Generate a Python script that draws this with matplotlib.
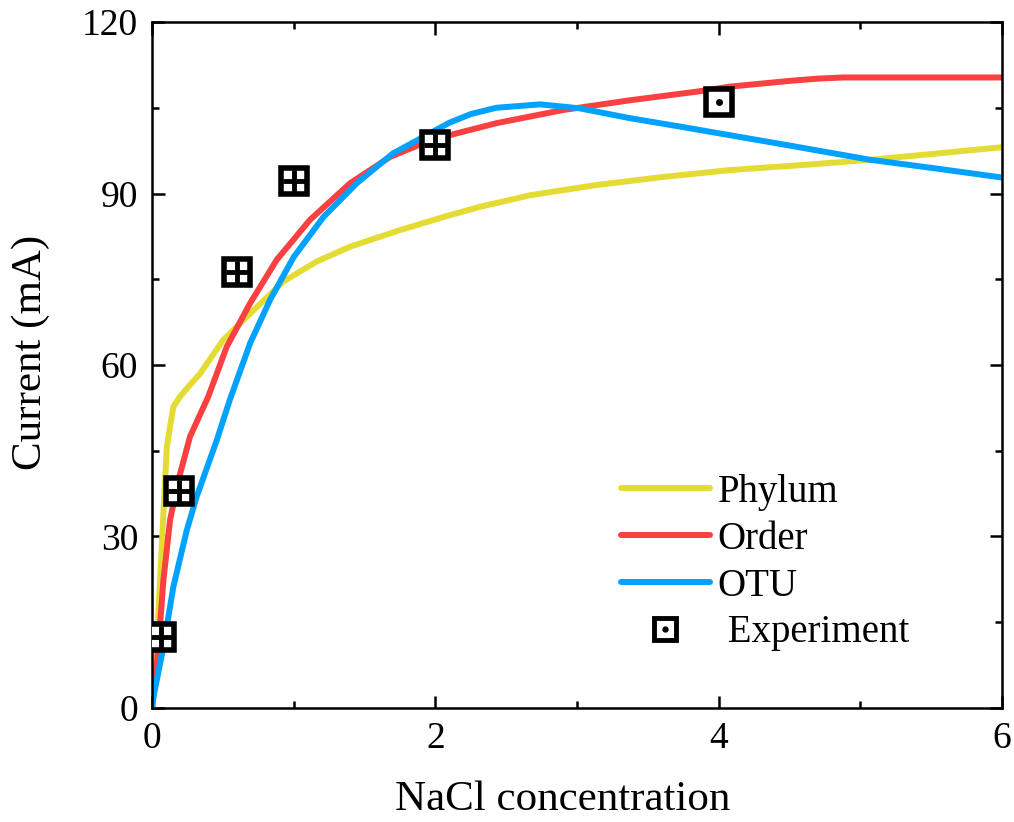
import matplotlib
matplotlib.use("Agg")
import matplotlib.pyplot as plt
from matplotlib.ticker import MultipleLocator
from matplotlib.legend_handler import HandlerTuple

# model curves
phylum_x = [0, 0.01, 0.045, 0.08, 0.104, 0.15, 0.198, 0.26, 0.339, 0.503, 0.692, 0.927, 1.162, 1.398,
            1.75, 2.10, 2.32, 2.67, 3.14, 3.61, 4.08, 4.6, 5.07, 5.5, 6.0]
phylum_y = [0, 4.9, 16.6, 34.1, 45.7, 52.7, 54.5, 56.3, 58.5, 64.4, 69.0, 74.6, 78.1, 80.7,
            83.6, 86.2, 87.7, 89.7, 91.5, 92.9, 94.1, 95.0, 95.9, 96.9, 98.1]

order_x = [0, 0.045, 0.08, 0.127, 0.186, 0.268, 0.397, 0.527, 0.692, 0.88, 1.115, 1.398, 1.68, 1.915,
           2.10, 2.43, 2.90, 3.37, 3.84, 4.08, 4.5, 4.7, 4.88, 6.0]
order_y = [0, 10.7, 22.4, 32.9, 39.9, 47.5, 54.5, 63.2, 70.8, 78.4, 85.4, 91.8, 96.4, 98.8,
           100.2, 102.3, 104.6, 106.3, 107.8, 108.7, 109.7, 110.1, 110.3, 110.3]

otu_x = [0, 0.01, 0.08, 0.15, 0.245, 0.315, 0.456, 0.55, 0.692, 0.833, 1.0, 1.21, 1.445, 1.70, 1.915,
         2.10, 2.25, 2.43, 2.74, 3.02, 3.37, 3.73, 4.08, 4.5, 5.07, 5.5, 6.0]
otu_y = [0, 2, 10.7, 21.2, 31.1, 37.0, 46.8, 54.0, 63.8, 71.4, 78.9, 85.9, 91.8, 97.0, 99.9,
         102.4, 103.9, 105.0, 105.6, 104.9, 103.2, 101.7, 100.2, 98.4, 95.9, 94.5, 92.8]

# experimental points
exp_x = [0.06, 0.19, 0.6, 1.0, 2.0, 4.0]
exp_y = [12.4, 38.0, 76.3, 92.2, 98.5, 106.0]
n_err = 5   # first five drawn with the error cross inside

plt.rcParams['font.family'] = ['Liberation Serif', 'DejaVu Serif']

fig = plt.figure(figsize=(10.14, 8.22), dpi=100)
ax = fig.add_axes([0.150, 0.1387, 0.838, 0.8345])

lw = 4.3
ax.plot(phylum_x, phylum_y, color='#E5DC33', lw=lw, solid_capstyle='round', solid_joinstyle='round', label='Phylum')
ax.plot(order_x, order_y, color='#FA4040', lw=lw, solid_capstyle='round', solid_joinstyle='round', label='Order')
ax.plot(otu_x, otu_y, color='#00A2FF', lw=lw, solid_capstyle='round', solid_joinstyle='round', label='OTU')

ax.plot(exp_x, exp_y, ls='none', marker='s', ms=19, mfc='white', mec='black', mew=4, zorder=5)
ax.plot(exp_x[:n_err], exp_y[:n_err], ls='none', marker='+', ms=16, mec='black', mew=3.5, zorder=6)
ax.plot(exp_x[n_err:], exp_y[n_err:], ls='none', marker='o', ms=4, mfc='black', mec='black', zorder=6)

leg_sq, = ax.plot([], [], ls='none', marker='s', ms=16, mfc='white', mec='black', mew=3.5)
leg_dot, = ax.plot([], [], ls='none', marker='o', ms=3.5, color='black')

handles, labels = ax.get_legend_handles_labels()
handles.append((leg_sq, leg_dot))
labels.append(' Experiment')
ax.legend(handles, labels, loc='lower left', bbox_to_anchor=(0.533, 0.06), frameon=False,
          fontsize=28, handlelength=2.3, handletextpad=0.2, labelspacing=0.25, borderaxespad=0,
          handler_map={tuple: HandlerTuple(ndivide=1)})

ax.set_xlim(0, 6)
ax.set_ylim(0, 120)
ax.xaxis.set_major_locator(MultipleLocator(2))
ax.xaxis.set_minor_locator(MultipleLocator(1))
ax.yaxis.set_major_locator(MultipleLocator(30))
ax.yaxis.set_minor_locator(MultipleLocator(15))
ax.tick_params(which='both', direction='in', top=True, right=True, width=1.8, pad=10, labelsize=27)
ax.tick_params(which='major', length=9)
ax.tick_params(which='minor', length=5)
for s in ax.spines.values():
    s.set_linewidth(1.8)

ax.set_xlabel('NaCl concentration', fontsize=31)
ax.set_ylabel('Current (mA)', fontsize=31)
ax.xaxis.set_label_coords(0.4835, -0.105)
ax.yaxis.set_label_coords(-0.12, 0.519)

fig.savefig('out.png', dpi=100)
plt.close()
